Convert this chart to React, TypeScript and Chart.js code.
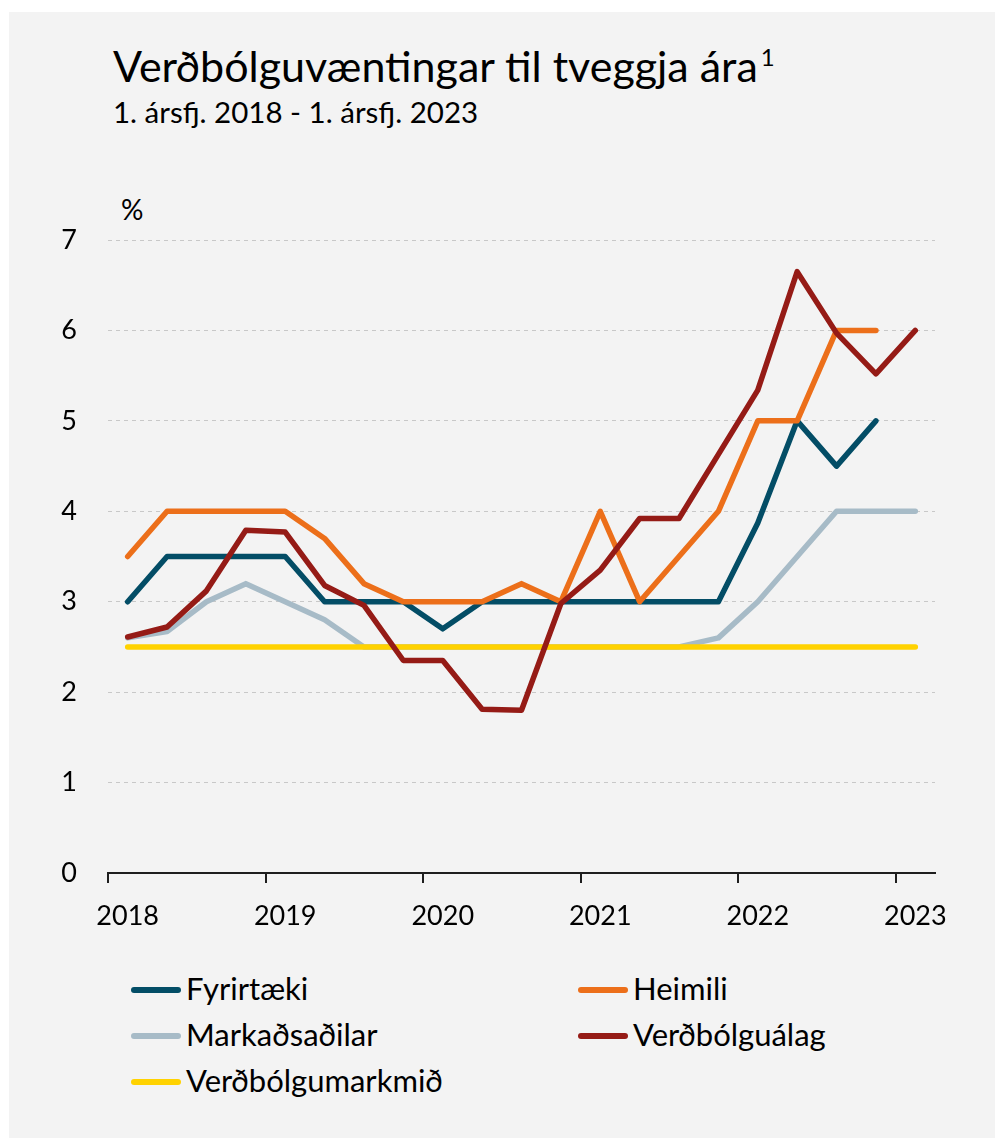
import React, { useEffect, useRef } from "react";
import { Chart, registerables } from "chart.js";

Chart.register(...registerables);

const quarters = [
  "2018Q1", "2018Q2", "2018Q3", "2018Q4",
  "2019Q1", "2019Q2", "2019Q3", "2019Q4",
  "2020Q1", "2020Q2", "2020Q3", "2020Q4",
  "2021Q1", "2021Q2", "2021Q3", "2021Q4",
  "2022Q1", "2022Q2", "2022Q3", "2022Q4",
  "2023Q1",
];
const yearLabels = ["2018", "2019", "2020", "2021", "2022", "2023"];

const fyrirtaeki = [3.0, 3.5, 3.5, 3.5, 3.5, 3.0, 3.0, 3.0, 2.7, 3.0, 3.0, 3.0, 3.0, 3.0, 3.0, 3.0, 3.87, 5.0, 4.5, 5.0, null];
const heimili = [3.5, 4.0, 4.0, 4.0, 4.0, 3.7, 3.2, 3.0, 3.0, 3.0, 3.2, 3.0, 4.0, 3.0, 3.5, 4.0, 5.0, 5.0, 6.0, 6.0, null];
const markadsadilar = [2.6, 2.67, 3.0, 3.2, 3.0, 2.8, 2.5, 2.5, 2.5, 2.5, 2.5, 2.5, 2.5, 2.5, 2.5, 2.6, 3.0, 3.5, 4.0, 4.0, 4.0];
const verdbolgualag = [2.61, 2.72, 3.12, 3.79, 3.77, 3.18, 2.96, 2.35, 2.35, 1.81, 1.8, 2.98, 3.35, 3.92, 3.92, 4.63, 5.34, 6.65, 5.97, 5.52, 6.0];
const verdbolgumarkmid = [2.5, 2.5, 2.5, 2.5, 2.5, 2.5, 2.5, 2.5, 2.5, 2.5, 2.5, 2.5, 2.5, 2.5, 2.5, 2.5, 2.5, 2.5, 2.5, 2.5, 2.5];

const COLORS = {
  fyrirtaeki: "#034d66",
  heimili: "#ec6f1a",
  markadsadilar: "#a7bbc7",
  verdbolgualag: "#951b16",
  markmid: "#ffd200",
};

const FONT = "Lato, 'Open Sans', sans-serif";

const legendItems = [
  { label: "Fyrirtæki", color: COLORS.fyrirtaeki, left: 131, top: 990 },
  { label: "Heimili", color: COLORS.heimili, left: 578, top: 990 },
  { label: "Markaðsaðilar", color: COLORS.markadsadilar, left: 131, top: 1036 },
  { label: "Verðbólguálag", color: COLORS.verdbolgualag, left: 578, top: 1036 },
  { label: "Verðbólgumarkmið", color: COLORS.markmid, left: 131, top: 1082 },
];

export default function App() {
  const canvasRef = useRef<HTMLCanvasElement | null>(null);

  useEffect(() => {
    if (!canvasRef.current) return;
    const lineDs = (label: string, data: (number | null)[], color: string, order: number) => ({
      label,
      data,
      borderColor: color,
      backgroundColor: color,
      borderWidth: 5.5,
      pointRadius: 0,
      pointHoverRadius: 0,
      tension: 0,
      fill: false,
      borderCapStyle: "round" as const,
      borderJoinStyle: "round" as const,
      order,
    });
    const chart = new Chart(canvasRef.current, {
      type: "line",
      data: {
        labels: quarters,
        datasets: [
          lineDs("Verðbólguálag", verdbolgualag, COLORS.verdbolgualag, 1),
          lineDs("Heimili", heimili, COLORS.heimili, 2),
          lineDs("Fyrirtæki", fyrirtaeki, COLORS.fyrirtaeki, 3),
          lineDs("Verðbólgumarkmið", verdbolgumarkmid, COLORS.markmid, 4),
          lineDs("Markaðsaðilar", markadsadilar, COLORS.markadsadilar, 5),
        ],
      },
      options: {
        animation: false,
        responsive: false,
        maintainAspectRatio: false,
        devicePixelRatio: 1,
        layout: { padding: { left: 0, top: 240, right: 60, bottom: 27 } },
        plugins: {
          legend: { display: false },
          title: { display: false },
          tooltip: { enabled: false },
        },
        scales: {
          x: {
            type: "category",
            offset: true,
            afterFit: (scale: any) => {
              scale.height = 60;
            },
            grid: {
              offset: true,
              drawOnChartArea: false,
              drawTicks: true,
              tickLength: 10,
              tickWidth: 2,
              lineWidth: 2,
              color: (ctx: any) => (typeof ctx.index === "number" && ctx.index % 4 === 0 ? "#1e1e1e" : "rgba(0,0,0,0)"),
              tickColor: (ctx: any) => (typeof ctx.index === "number" && ctx.index % 4 === 0 ? "#1e1e1e" : "rgba(0,0,0,0)"),
            },
            border: { display: true, color: "#1e1e1e", width: 2 },
            ticks: {
              autoSkip: false,
              maxRotation: 0,
              minRotation: 0,
              padding: 17,
              color: "#000",
              font: { family: FONT, size: 27 },
              callback: (_v: any, index: number) => (index % 4 === 0 ? yearLabels[index / 4] : ""),
            },
          },
          y: {
            min: 0,
            max: 7,
            afterFit: (scale: any) => {
              scale.width = 108;
            },
            grid: {
              drawTicks: false,
              lineWidth: 1,
              color: (ctx: any) => (ctx.tick && ctx.tick.value === 0 ? "rgba(0,0,0,0)" : "#c8c8c8"),
            },
            border: { display: false, dash: [4, 4] },
            ticks: {
              stepSize: 1,
              padding: 31,
              color: "#000",
              font: { family: FONT, size: 27 },
            },
          },
        },
      },
    });
    return () => chart.destroy();
  }, []);

  return (
    <div style={{ position: "absolute", left: 0, top: 0, width: 995, height: 1138, background: "#ffffff", overflow: "hidden", fontFamily: FONT, color: "#000" }}>
      <div style={{ position: "absolute", left: 9, top: 12, width: 986, height: 1126, background: "#f3f3f3" }} />
      <div style={{ position: "absolute", left: 113, top: 44, fontSize: 43, lineHeight: "43px", whiteSpace: "nowrap" }}>
        Verðbólguvæntingar til tveggja ára
        <span style={{ fontSize: 24, position: "relative", top: -16, marginLeft: 3 }}>1</span>
      </div>
      <div style={{ position: "absolute", left: 113, top: 97, fontSize: 29.5, lineHeight: "29.5px", whiteSpace: "nowrap" }}>
        1. ársfj. 2018 - 1. ársfj. 2023
      </div>
      <div style={{ position: "absolute", left: 121, top: 195, fontSize: 28, lineHeight: "28px" }}>%</div>
      <canvas ref={canvasRef} width={995} height={960} style={{ position: "absolute", left: 0, top: 0, width: 995, height: 960 }} />
      {legendItems.map((it) => (
        <div key={it.label} style={{ position: "absolute", left: it.left, top: it.top - 16, height: 32, display: "flex", alignItems: "center", whiteSpace: "nowrap" }}>
          <div style={{ width: 50, height: 6, borderRadius: 3, background: it.color, marginRight: 5 }} />
          <span style={{ fontSize: 31, lineHeight: "31px", position: "relative", top: -2 }}>{it.label}</span>
        </div>
      ))}
    </div>
  );
}
